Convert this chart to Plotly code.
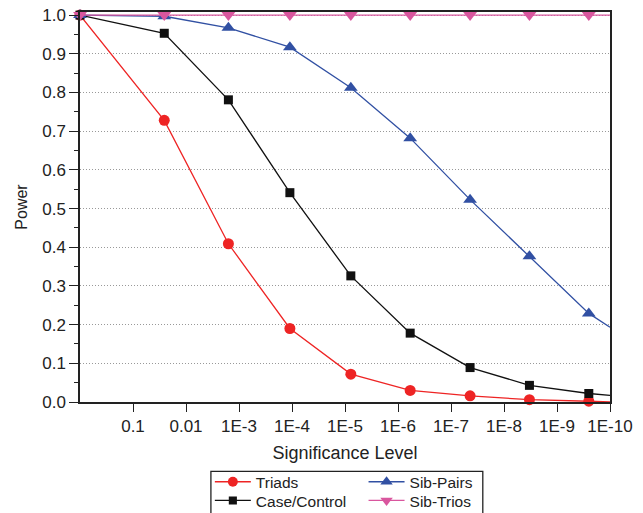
import plotly.graph_objects as go

# -log10(significance level) positions of the evaluated points (last = axis edge)
neg_log_alpha = [0, 1.59, 2.80, 3.96, 5.11, 6.23, 7.36, 8.48, 9.60, 10.0]
triads = [1.0, 0.728, 0.409, 0.190, 0.072, 0.030, 0.016, 0.006, 0.002, 0.0]
case_control = [1.0, 0.953, 0.781, 0.541, 0.326, 0.178, 0.089, 0.043, 0.022, 0.017]
sib_pairs = [1.0, 0.997, 0.967, 0.917, 0.812, 0.682, 0.523, 0.377, 0.229, 0.193]
sib_trios = [1.0, 1.0, 1.0, 1.0, 1.0, 1.0, 1.0, 1.0, 1.0, 1.0]

tick_vals = [1, 2, 3, 4, 5, 6, 7, 8, 9, 10]
tick_text = ["0.1", "0.01", "1E-3", "1E-4", "1E-5", "1E-6", "1E-7", "1E-8", "1E-9", "1E-10"]
y_ticks = [0.0, 0.1, 0.2, 0.3, 0.4, 0.5, 0.6, 0.7, 0.8, 0.9, 1.0]

FONT = "Liberation Sans, Arial, sans-serif"

def sizes(n, s):
    return [s] * (n - 1) + [0]

# name, values, colour, symbol, marker size, legend id, legend x, legend y
series = [
    ("Triads", triads, "#ee2424", "circle", 11, "legend", 0.245, -0.162),
    ("Case/Control", case_control, "#111111", "square", 9, "legend2", 0.245, -0.210),
    ("Sib-Pairs", sib_pairs, "#3150a3", "triangle-up", 12, "legend3", 0.535, -0.162),
    ("Sib-Trios", sib_trios, "#d9569e", "triangle-down", 12, "legend4", 0.535, -0.210),
]

fig = go.Figure()
legends = {}
for name, ys, color, sym, ms, lg, lx, ly in series:
    fig.add_trace(go.Scatter(
        x=neg_log_alpha, y=ys, name=name, mode="lines+markers",
        line=dict(color=color, width=1.3),
        marker=dict(symbol=sym, size=sizes(len(ys), ms), color=color, opacity=1,
                    line=dict(width=0)),
        cliponaxis=False, legend=lg,
    ))
    legends[lg] = dict(
        x=lx, y=ly, orientation="v", font=dict(family=FONT, size=15.5, color="#222"),
        bgcolor="rgba(0,0,0,0)", borderwidth=0, itemwidth=36,
        xanchor="left", yanchor="top",
    )

fig.update_layout(
    width=643, height=513,
    margin=dict(l=80, r=33, t=12, b=111, autoexpand=False),
    paper_bgcolor="white", plot_bgcolor="white",
    font=dict(family=FONT, size=15, color="#222"),
    showlegend=True,
    **legends,
    xaxis=dict(
        range=[0, 10], tickmode="array", tickvals=tick_vals, ticktext=tick_text,
        ticks="outside", ticklen=8, tickwidth=1.3, tickcolor="#222",
        showline=True, linecolor="#222", linewidth=1.5, mirror=True,
        showgrid=False, zeroline=False, automargin=False,
        title=dict(text="Significance Level", font=dict(size=18), standoff=11),
        tickfont=dict(size=17),
    ),
    yaxis=dict(
        range=[0, 1.008], tickmode="array", tickvals=y_ticks,
        ticktext=[f"{v:.1f}" for v in y_ticks],
        ticks="outside", ticklen=9, tickwidth=1.3, tickcolor="#222",
        minor=dict(ticks="outside", ticklen=4, tickwidth=1.3, tickcolor="#222",
                   dtick=0.05, tick0=0.05, showgrid=False),
        showline=True, linecolor="#222", linewidth=1.5, mirror=True,
        showgrid=True, gridcolor="#999999", griddash="1px,2px", gridwidth=1,
        zeroline=False, automargin=False,
        title=dict(text="Power", font=dict(size=16), standoff=11),
        tickfont=dict(size=17),
    ),
    shapes=[dict(type="rect", xref="paper", yref="paper",
                 x0=0.247, x1=0.760, y0=-0.32, y1=-0.178,
                 line=dict(color="#222", width=1.3), fillcolor="rgba(0,0,0,0)")],
)

fig.write_html("out.html")
